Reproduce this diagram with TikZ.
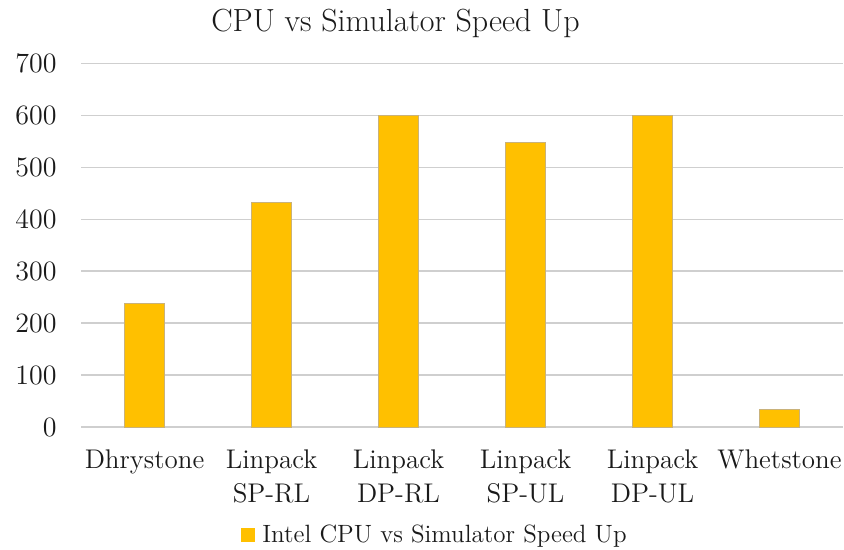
\documentclass[tikz,border=0pt]{standalone}
\usepackage{tikz}
\usepackage{xcolor}
\usetikzlibrary{positioning}
\definecolor{bargold} {HTML}{FFC000}
\definecolor{baredge} {HTML}{C9B27A}
\definecolor{gridgray}{HTML}{CFCFCF}
\definecolor{ink}     {HTML}{1A1A1A}
\tikzset{
  chartfont/.style={font=\fontsize{13.5}{17}\selectfont,text=ink},
  gridline/.style={draw=gridgray,line width=0.8pt},
  barbox/.style={fill=bargold,draw=baredge,line width=0.5pt},
  ticklabel/.style={font=\fontsize{14}{16}\selectfont,text=ink,anchor=east,inner sep=0pt},
  catlabel/.style={chartfont,anchor=north,align=center,inner sep=0pt}
}
\begin{document}
\begin{tikzpicture}[x=0.5pt,y=-0.5pt]
  \useasboundingbox (0,0) rectangle (844,550);
  \node[font=\fontsize{16}{19}\selectfont,text=ink,anchor=base,inner sep=0pt]
    (title) at (395.5,32) {CPU vs Simulator Speed Up};
  % grid and y ticks
  \foreach \v in {0,...,7}{
    \draw[gridline] (81,427-51.9*\v) -- (843,427-51.9*\v);
    \node[ticklabel] (tick\v) at (57,427-51.9*\v) {\the\numexpr\v*100\relax};
  }
  % bars
  \foreach \i/\val/\name in {1/238/Dhrystone,2/433/Linpack\\SP-RL,3/600/Linpack\\DP-RL,
                             4/549/Linpack\\SP-UL,5/600/Linpack\\DP-UL,6/34/Whetstone}{
    \draw[barbox] (144.5+127*\i-147,427) rectangle (144.5+127*\i-107,427-0.519*\val);
    \node[catlabel] (cat\i) at (144.5+127*\i-127,449) {\name};
  }
  % legend
  \node[fill=bargold,minimum size=7pt,inner sep=0pt] (key) at (248,534.5) {};
  \node[font=\fontsize{12.5}{15}\selectfont,text=ink,anchor=base west,inner sep=0pt]
    (keytext) at (262,542) {Intel CPU vs Simulator Speed Up};
\end{tikzpicture}
\end{document}
